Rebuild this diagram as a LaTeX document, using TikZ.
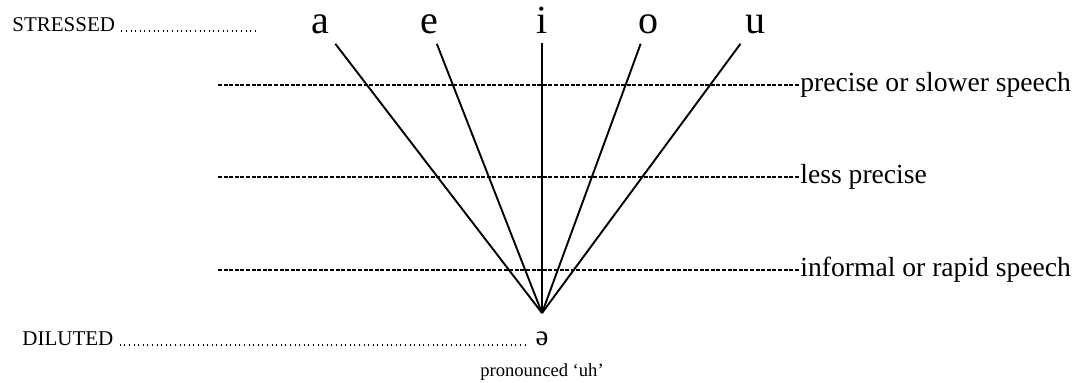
\documentclass[tikz,border=0pt]{standalone}
\usepackage{fontspec}
\setmainfont{Liberation Serif}
\usetikzlibrary{positioning}
\tikzset{
  vowel/.style={font=\fontsize{20}{22}\selectfont, inner sep=5pt},
  tier/.style={font=\fontsize{10.5}{12}\selectfont, inner sep=3pt, anchor=base west},
  speed/.style={font=\fontsize{13.8}{16}\selectfont, inner sep=0pt, anchor=west},
  leader/.style={line width=0.75pt, dash pattern=on 0.5pt off 1.8pt},
  level/.style={line width=0.85pt, dash pattern=on 2pt off 0.8pt},
  drift/.style={line width=0.95pt},
  note/.style={font=\fontsize{9.3}{11}\selectfont},
}
\begin{document}
\begin{tikzpicture}[x=0.5pt, y=-0.5pt]
  \useasboundingbox (0,0) rectangle (1075,382);

  \node[tier] (stressed) at (6,31) {STRESSED};
  \node[tier] (diluted) at (16,345) {DILUTED};
  \node[font=\fontsize{14.5}{16}\selectfont, inner sep=3pt, anchor=base] (schwa) at (542,345) {ə};
  \node[note] (uh) at (542,372) {pronounced `uh'};
  \coordinate (sdots) at (258,31);
  \coordinate (conv) at (542,313);

  \draw[leader] (stressed.base east) -- (sdots);
  \draw[leader] (diluted.base east) -- (schwa.base west);

  \foreach \lvl/\y/\txt in {slow/85/precise or slower speech, less/177/less precise, fast/270/informal or rapid speech} {
    \node[speed] (\lvl) at (800,\y) {\txt};
    \coordinate (\lvl-start) at (218,\y);
    \draw[level] (\lvl-start) -- (\lvl);
  }

  \foreach \v/\x in {a/320, e/429, i/542, o/648, u/755} {
    \node[vowel, anchor=base] (\v) at (\x,33) {\v};
    \draw[drift] (\v) -- (conv);
  }
\end{tikzpicture}
\end{document}
